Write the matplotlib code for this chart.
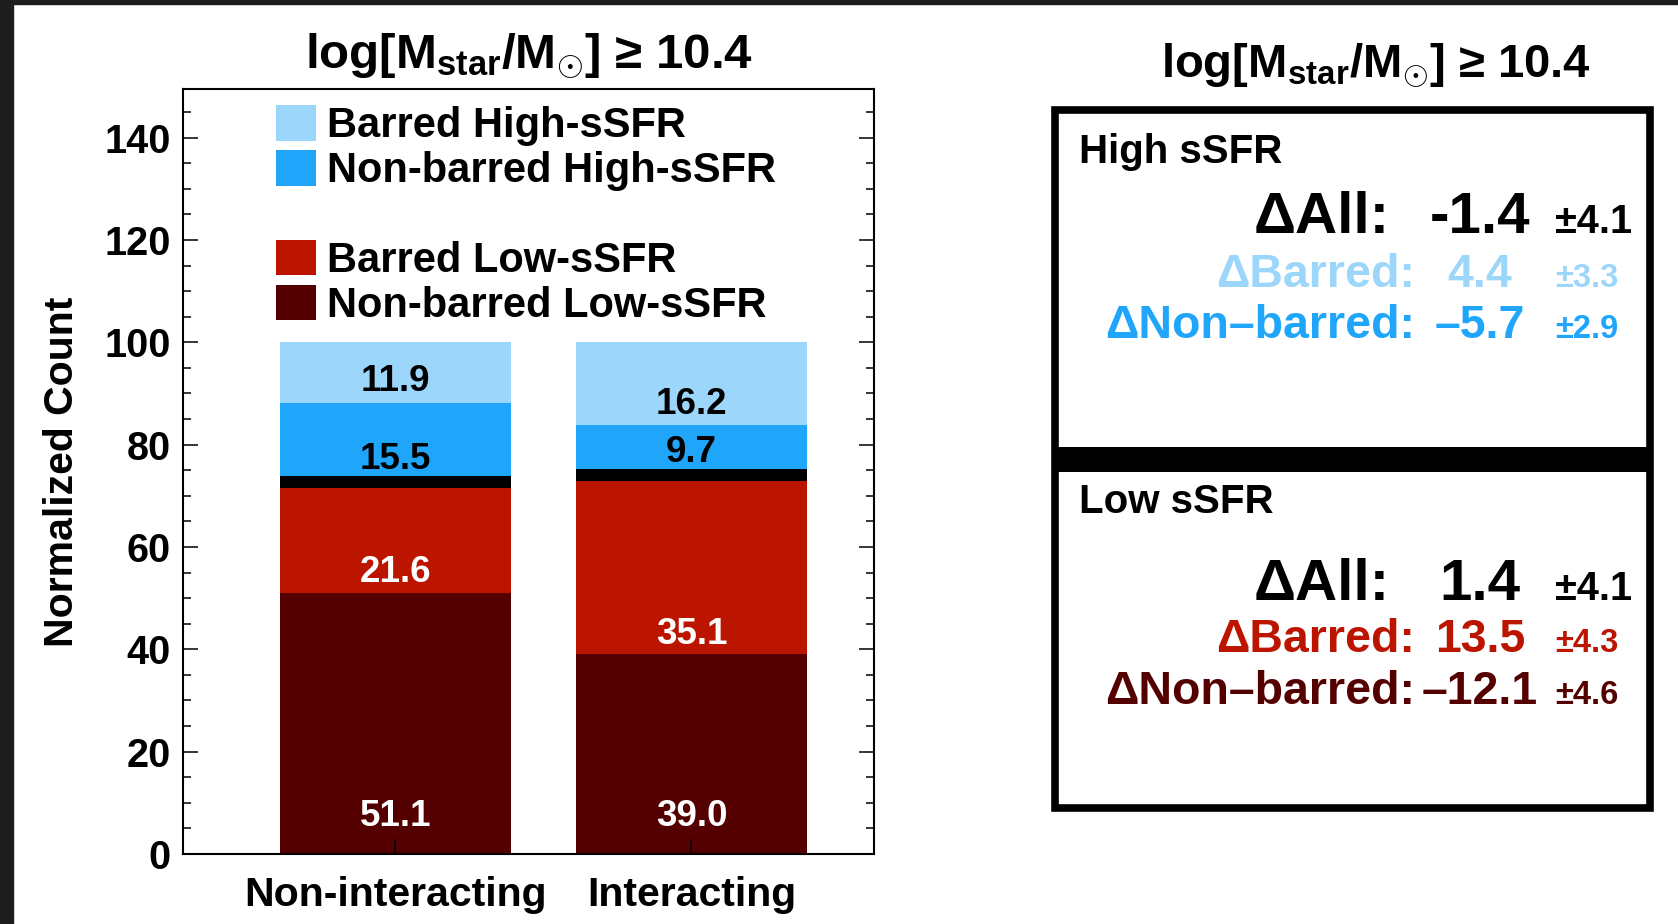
import matplotlib
matplotlib.use("Agg")
import matplotlib.pyplot as plt
from matplotlib.patches import Rectangle, Patch
from matplotlib.ticker import MultipleLocator
import numpy as np

plt.rcParams.update({
    "font.family": ["Liberation Sans", "DejaVu Sans"],
    "font.weight": "bold",
    "axes.titleweight": "bold",
    "axes.labelweight": "bold",
    "mathtext.fontset": "custom",
    "mathtext.rm": "Liberation Sans:bold",
    "mathtext.bf": "Liberation Sans:bold",
    "mathtext.it": "Liberation Sans:bold",
    "axes.linewidth": 1.5,
})

# --- Data ---
groups = ["Non-interacting", "Interacting"]
nonbar_low = [51.1, 39.0]
bar_low = [21.6, 35.1]
nonbar_high = [15.5, 9.7]
bar_high = [11.9, 16.2]

seg_names = ["Barred High-sSFR", "Non-barred High-sSFR",
             "Barred Low-sSFR", "Non-barred Low-sSFR"]

# (label, value, error) per row for each sSFR class
delta_high = [("ΔAll:", "-1.4", "±4.1"),
              ("ΔBarred:", "4.4", "±3.3"),
              ("ΔNon–barred:", "–5.7", "±2.9")]
delta_low = [("ΔAll:", "1.4", "±4.1"),
             ("ΔBarred:", "13.5", "±4.3"),
             ("ΔNon–barred:", "–12.1", "±4.6")]

title = r"log[M$_{\mathbf{star}}$/M$_{\odot}$] ≥ 10.4"

# --- Colors ---
C_LBLUE = "#9CD6FB"
C_BLUE = "#1FA5FA"
C_RED = "#BB1500"
C_DRED = "#550000"

W, H = 1678, 924
fig = plt.figure(figsize=(W / 100, H / 100), dpi=100)
fig.patch.set_facecolor("white")

# screenshot dark frame
fig.patches.append(Rectangle((0, 0), 13 / W, 1, transform=fig.transFigure,
                             color="#1d1d1f", zorder=-5))
fig.patches.append(Rectangle((0, 1 - 4 / H), 1, 4 / H, transform=fig.transFigure,
                             color="#1d1d1f", zorder=-5))

# === Left panel: stacked bars ===
ax = fig.add_axes([183 / W, 1 - 854 / H, 691 / W, 765 / H])
x = np.arange(len(groups))
wid = 0.78

b0 = np.zeros(len(groups))
b1 = b0 + np.array(nonbar_low)
b2 = b1 + np.array(bar_low)
b3 = b2 + np.array(nonbar_high)

ax.bar(x, nonbar_low, wid, bottom=b0, color=C_DRED, linewidth=0)
ax.bar(x, bar_low, wid, bottom=b1, color=C_RED, linewidth=0)
ax.bar(x, nonbar_high, wid, bottom=b2, color=C_BLUE, linewidth=0)
ax.bar(x, bar_high, wid, bottom=b3, color=C_LBLUE, linewidth=0)
# black separator between low- and high-sSFR
sep = 2.3
ax.bar(x, sep, wid, bottom=b2 - sep / 2, color="black", linewidth=0)

for i in range(len(groups)):
    ax.text(x[i], b0[i] + 7.3, f"{nonbar_low[i]:.1f}", ha="center", va="center",
            color="white", fontsize=26.5)
    ax.text(x[i], b1[i] + 3.9, f"{bar_low[i]:.1f}", ha="center", va="center",
            color="white", fontsize=26.5)
    ax.text(x[i], b2[i] + 4.3, f"{nonbar_high[i]:.1f}", ha="center", va="center",
            color="black", fontsize=26.5)
    ax.text(x[i], b3[i] + 4.1, f"{bar_high[i]:.1f}", ha="center", va="center",
            color="black", fontsize=26.5)

ax.set_xlim(-0.718, 1.617)
ax.set_ylim(0, 149.5)
ax.set_xticks(x)
ax.set_xticklabels(groups, fontsize=29.5)
ax.yaxis.set_major_locator(MultipleLocator(20))
ax.yaxis.set_minor_locator(MultipleLocator(5))
ax.tick_params(axis="y", which="both", direction="in", left=True, right=True,
               labelsize=28.5, pad=9, width=1.1)
ax.tick_params(axis="y", which="major", length=11)
ax.tick_params(axis="y", which="minor", length=6)
ax.tick_params(axis="x", direction="in", length=11, width=1.1, pad=16)
ax.set_ylabel("Normalized Count", fontsize=29.5)
ax.yaxis.set_label_coords(-0.147, 0.5)
ax.set_title(title, fontsize=35.5, pad=15)

handles = [Patch(facecolor=C_LBLUE), Patch(facecolor=C_BLUE),
           Patch(facecolor="none", edgecolor="none"),
           Patch(facecolor=C_RED), Patch(facecolor=C_DRED)]
labels = [seg_names[0], seg_names[1], "", seg_names[2], seg_names[3]]
ax.legend(handles, labels, loc="upper left", bbox_to_anchor=(0.1346, 0.979),
          frameon=False, fontsize=30, handlelength=0.96, handleheight=0.94,
          handletextpad=0.27, labelspacing=0.09, borderpad=0, borderaxespad=0)

# === Right panel: delta summary box ===
bx = fig.add_axes([1052 / W, 1 - 811 / H, 601 / W, 704 / H])
bx.set_xlim(1052, 1653)
bx.set_ylim(811, 107)
bx.axis("off")
bx.add_patch(Rectangle((1055, 110), 595, 698, facecolor="none",
                       edgecolor="black", linewidth=5.5, clip_on=False))
bx.add_patch(Rectangle((1052, 447), 601, 25, facecolor="black",
                       edgecolor="none", clip_on=False))

fig.text(1376 / W, 1 - 77 / H, title, fontsize=34, ha="center", va="baseline")


def draw_block(rows, head, y_head, ys, colors):
    bx.text(1079, y_head, head, fontsize=29, ha="left", va="baseline")
    for (lab, val, err), yy, col, k in zip(rows, ys, colors, range(3)):
        fs = 42 if k == 0 else 33.5
        fs_err = 28.5 if k == 0 else 23.5
        xl = 1390 if k == 0 else 1415
        bx.text(xl, yy, lab, fontsize=fs, color=col, ha="right", va="baseline")
        bx.text(1480, yy, val, fontsize=fs, color=col, ha="center", va="baseline")
        bx.text(1555, yy, err, fontsize=fs_err, color=col, ha="left", va="baseline")


draw_block(delta_high, "High sSFR", 163, [233, 287, 338], ["black", C_LBLUE, C_BLUE])
draw_block(delta_low, "Low sSFR", 513, [600, 652, 704], ["black", C_RED, C_DRED])

fig.savefig("out.png", dpi=100)
